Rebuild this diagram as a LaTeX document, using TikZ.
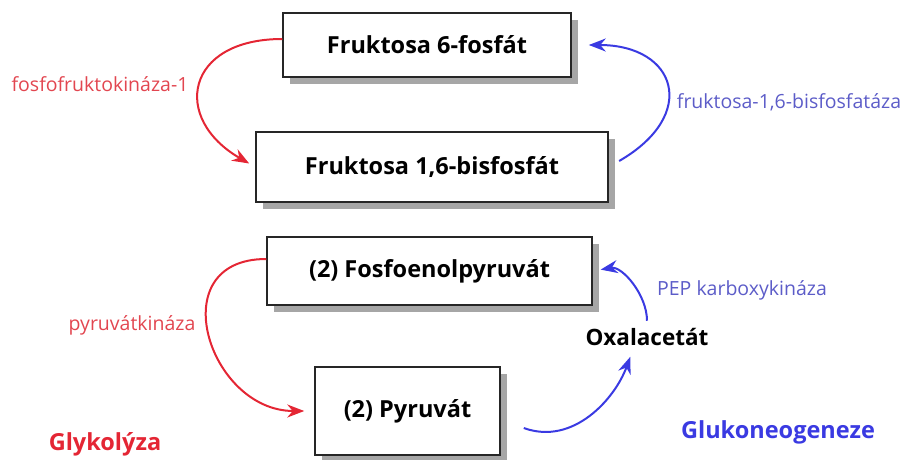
\documentclass[tikz,border=0pt]{standalone}
\usepackage{fontspec}
\setmainfont{Open Sans}
\usetikzlibrary{arrows.meta,shadows}
\definecolor{glyRed}{RGB}{228,38,52}
\definecolor{glyLabel}{RGB}{226,70,80}
\definecolor{gngBlue}{RGB}{58,58,226}
\definecolor{gngLabel}{RGB}{92,92,200}
\tikzstyle{boxNode}=[draw=black!85,line width=1.5pt,fill=white,font=\fontsize{23.5}{27}\selectfont\bfseries,inner sep=0pt,drop shadow={shadow xshift=7pt,shadow yshift=-7pt,fill=black!35,opacity=1}]
\tikzstyle{redLabel}=[text=glyLabel,font=\fontsize{19.5}{23}\selectfont]
\tikzstyle{blueLabel}=[text=gngLabel,font=\fontsize{19.5}{23}\selectfont]
\tikzstyle{redArrow}=[-{Stealth[length=17pt,width=13pt]},line width=2pt,glyRed]
\tikzstyle{blueArrow}=[-{Stealth[length=17pt,width=13pt]},line width=2pt,gngBlue]

\begin{document}
\begin{tikzpicture}[x=1pt,y=1pt]
    \useasboundingbox (0,0) rectangle (904,459);

    \node[boxNode,minimum width=288pt,minimum height=64pt] (f6p) at (427,414) {Fruktosa 6-fosfát};
    \node[boxNode,minimum width=352pt,minimum height=70pt] (f16bp) at (432,292) {Fruktosa 1,6-bisfosfát};
    \node[boxNode,minimum width=325pt,minimum height=68pt] (pep) at (429.5,188) {(2) Fosfoenolpyruvát};
    \node[boxNode,minimum width=185pt,minimum height=88pt] (pyr) at (407.5,48) {(2) Pyruvát};
    \node[font=\fontsize{22.5}{26}\selectfont\bfseries] (oaa) at (647,122) {Oxalacetát};

    \node[redLabel] (pfk) at (100,375) {fosfofruktokináza-1};
    \node[blueLabel] (fbp) at (789,357) {fruktosa-1,6-bisfosfatáza};
    \node[redLabel] (pk) at (132,134) {pyruvátkináza};
    \node[blueLabel] (pepck) at (742,169) {PEP karboxykináza};
    \node[text=glyRed,font=\fontsize{23.5}{27}\selectfont\bfseries] (gly) at (105,15) {Glykolýza};
    \node[text=gngBlue,font=\fontsize{23.5}{27}\selectfont\bfseries] (gng) at (778,27) {Glukoneogeneze};

    \draw[redArrow,shorten >=7pt] ([yshift=6pt]f6p.west) to[out=180,in=150,looseness=1.9] (f16bp.west);
    \draw[blueArrow,shorten <=12pt,shorten >=17pt] (f16bp.east) to[out=30,in=0,looseness=2.1] (f6p.east);
    \draw[redArrow,shorten >=10pt] ([yshift=12pt]pep.west) to[out=180,in=180,looseness=1.7] (pyr.west);
    \draw[blueArrow,shorten >=8pt] ([xshift=23pt,yshift=-17pt]pyr.east) to[out=-20,in=250] ([xshift=-14pt]oaa.south);
    \draw[blueArrow,shorten <=4pt,shorten >=8pt] (oaa.north) to[out=90,in=10] (pep.east);

\end{tikzpicture}
\end{document}
